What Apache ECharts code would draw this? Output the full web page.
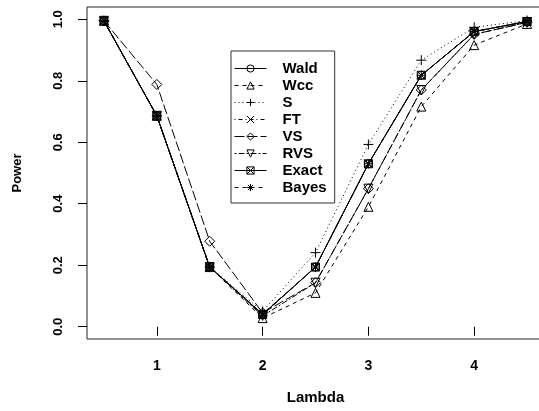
<!DOCTYPE html>
<html>
<head>
<meta charset="utf-8">
<script src="https://cdn.jsdelivr.net/npm/echarts@6/dist/echarts.min.js"></script>
<style>html,body{margin:0;padding:0;background:#fff}#c{width:539px;height:411px}</style>
</head>
<body>
<div id="c"></div>
<script>
const lambda = [0.5, 1, 1.5, 2, 2.5, 3, 3.5, 4, 4.5];
const wald  = [0.995, 0.686, 0.194, 0.040, 0.194, 0.530, 0.818, 0.960, 0.993];
const wcc   = [0.995, 0.686, 0.194, 0.028, 0.110, 0.390, 0.716, 0.916, 0.985];
const sScore= [0.995, 0.686, 0.194, 0.050, 0.241, 0.593, 0.867, 0.974, 0.996];
const ft    = [0.995, 0.686, 0.194, 0.038, 0.194, 0.530, 0.818, 0.960, 0.993];
const vs    = [0.995, 0.788, 0.278, 0.045, 0.143, 0.449, 0.770, 0.951, 0.990];
const rvs   = [0.995, 0.686, 0.194, 0.035, 0.143, 0.449, 0.770, 0.951, 0.990];
const exact = [0.995, 0.686, 0.194, 0.040, 0.194, 0.530, 0.818, 0.960, 0.993];
const bayes = [0.995, 0.686, 0.194, 0.042, 0.194, 0.530, 0.818, 0.960, 0.993];
const xTicks = [1, 2, 3, 4];
const yTicks = [0, 0.2, 0.4, 0.6, 0.8, 1.0];

const FONT = '"Liberation Sans", Arial, sans-serif';
const PLUS = 'path://M0,5L10,5M5,0L5,10';
const CROSS = 'path://M0,0L10,10M10,0L0,10';
const BOXX = 'path://M0,0L10,0L10,10L0,10ZM0,0L10,10M10,0L0,10';
const STAR = 'path://M0,5L10,5M5,0L5,10M1.5,1.5L8.5,8.5M8.5,1.5L1.5,8.5';

const defs = [
  {name: 'Wald',  data: wald,  symbol: 'circle',   type: 'solid', size: 8},
  {name: 'Wcc',   data: wcc,   symbol: 'triangle', type: [4, 4], size: 9},
  {name: 'S',     data: sScore,symbol: PLUS,       type: [1, 3], size: 10},
  {name: 'FT',    data: ft,    symbol: CROSS,      type: [1, 3, 4, 3], size: 8},
  {name: 'VS',    data: vs,    symbol: 'diamond',  type: [10, 3], size: 10},
  {name: 'RVS',   data: rvs,   symbol: 'triangle', type: [2, 2, 6, 2], size: 9, rotate: 180},
  {name: 'Exact', data: exact, symbol: BOXX,       type: 'solid', size: 8},
  {name: 'Bayes', data: bayes, symbol: STAR,       type: [4, 4], size: 9}
];

const series = defs.map(d => ({
  name: d.name,
  type: 'line',
  data: lambda.map((x, i) => [x, d.data[i]]),
  symbol: d.symbol,
  symbolSize: d.size,
  symbolRotate: d.rotate || 0,
  showAllSymbol: true,
  lineStyle: {color: '#000', width: 1, type: d.type},
  itemStyle: {color: 'rgba(0,0,0,0)', borderColor: '#000', borderWidth: 1},
  emphasis: {disabled: true},
  animation: false
}));

const chart = echarts.init(document.getElementById('c'), null, {renderer: 'canvas'});
chart.setOption({
  backgroundColor: '#fff',
  animation: false,
  grid: {left: 87, top: 7, width: 457, height: 332, show: true, borderColor: '#222', borderWidth: 1,
    backgroundColor: 'transparent', outerBoundsMode: 'none', containLabel: false},
  legend: {
    orient: 'vertical',
    left: 231, top: 51,
    padding: [9, 8, 7, 3],
    itemWidth: 32, itemHeight: 9, itemGap: 0,
    borderColor: '#333', borderWidth: 1, borderRadius: 0,
    backgroundColor: '#fff',
    selectedMode: false,
    lineStyle: {width: 1, color: '#000'},
    itemStyle: {color: 'rgba(0,0,0,0)', borderColor: '#000', borderWidth: 1},
    textStyle: {fontFamily: FONT, fontWeight: 'bold', fontSize: 15, color: '#000', lineHeight: 17, padding: [0, 0, 0, 11]},
    data: defs.map(d => d.name)
  },
  xAxis: {
    type: 'value', min: 0.34, max: 4.66,
    splitLine: {show: false},
    axisLine: {show: false},
    axisTick: {show: true, inside: false, length: 9, lineStyle: {color: '#000'}, customValues: xTicks},
    axisLabel: {customValues: xTicks, fontFamily: FONT, fontWeight: 'bold', fontSize: 14, color: '#000', margin: 20},
    name: 'Lambda', nameLocation: 'middle', nameGap: 51,
    nameTextStyle: {fontFamily: FONT, fontWeight: 'bold', fontSize: 15, color: '#000'}
  },
  yAxis: {
    type: 'value', min: -0.04, max: 1.04,
    splitLine: {show: false},
    axisLine: {show: false},
    axisTick: {show: true, inside: false, length: 9, lineStyle: {color: '#000'}, customValues: yTicks},
    axisLabel: {customValues: yTicks, rotate: 90, fontFamily: FONT, fontWeight: 'bold', fontSize: 13, color: '#000', margin: 22,
      formatter: v => v.toFixed(1)},
    name: 'Power', nameLocation: 'middle', nameGap: 63, nameRotate: 90,
    nameTextStyle: {fontFamily: FONT, fontWeight: 'bold', fontSize: 13, color: '#000'}
  },
  series: series
});
</script>
</body>
</html>
